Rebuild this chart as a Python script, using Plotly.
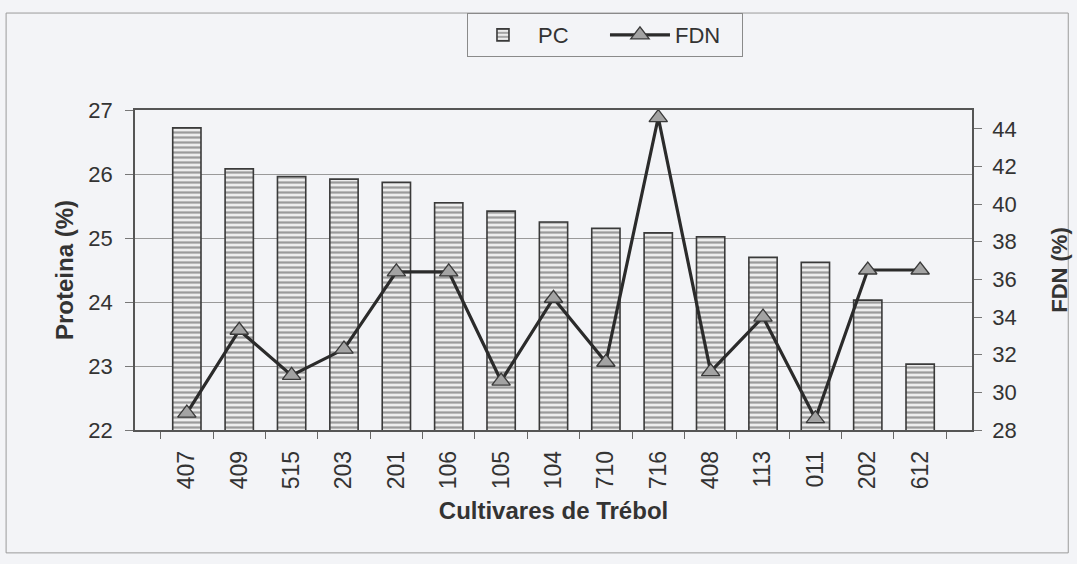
import plotly.graph_objects as go

cultivares = ["407", "409", "515", "203", "201", "106", "105", "104",
              "710", "716", "408", "113", "011", "202", "612"]
pc = [26.72, 26.08, 25.96, 25.92, 25.87, 25.55, 25.42, 25.25,
      25.15, 25.08, 25.02, 24.70, 24.62, 24.03, 23.03]
fdn = [28.9, 33.3, 30.9, 32.3, 36.4, 36.4, 30.6, 35.0,
       31.6, 44.6, 31.1, 34.0, 28.6, 36.5, 36.5]

left_ticks = [22, 23, 24, 25, 26, 27]
right_ticks = [28, 30, 32, 34, 36, 38, 40, 42, 44]

ink = "#333333"
bg = "#f3f4f7"
font_family = "Liberation Sans, Arial, sans-serif"

fig = go.Figure()
fig.add_trace(go.Bar(
    x=cultivares, y=pc, name="PC",
    marker=dict(
        color="#eeeeee",
        line=dict(color="#3a3a3a", width=1.6),
        pattern=dict(shape="-", fgcolor="#4a4a4a", bgcolor="#ededed",
                     size=5, solidity=0.45),
    ),
    yaxis="y",
))
fig.add_trace(go.Scatter(
    x=cultivares, y=fdn, name="FDN", mode="lines+markers",
    line=dict(color="#2b2b2b", width=3.2),
    marker=dict(symbol="triangle-up", size=16, color="#a3a3a3",
                line=dict(color="#3a3a3a", width=1.3)),
    yaxis="y2",
))

fig.update_layout(
    width=1077, height=564, autosize=False,
    margin=dict(l=135, r=105, t=110, b=134, autoexpand=False),
    paper_bgcolor=bg, plot_bgcolor=bg,
    font=dict(family=font_family, color=ink, size=20),
    bargap=0.46,
    showlegend=True,
    legend=dict(orientation="h", x=0.5615, xanchor="center",
                y=1.303, yanchor="top",
                bordercolor="#8a8a8a", borderwidth=1, bgcolor=bg,
                font=dict(size=22, color=ink),
                itemwidth=60, entrywidth=62, tracegroupgap=0),
    xaxis=dict(
        title=dict(text="<b>Cultivares de Trébol</b>", font=dict(size=24), standoff=14),
        tickangle=-90, tickfont=dict(size=23),
        showline=True, linecolor="#555555", linewidth=1.5, mirror=True,
        ticks="outside", tickson="boundaries", ticklen=7, tickcolor="#666666",
        ticklabelstandoff=10,
        showgrid=False, automargin=False,
    ),
    yaxis=dict(
        title=dict(text="<b>Proteina (%)</b>", font=dict(size=24), standoff=8),
        range=[22, 27], tickvals=left_ticks, tickfont=dict(size=22),
        showline=True, linecolor="#555555", linewidth=1.5,
        ticks="outside", ticklen=8, tickcolor="#777777",
        ticklabelstandoff=8,
        showgrid=True, gridcolor="#999999", gridwidth=1,
        zeroline=False, automargin=False,
    ),
    yaxis2=dict(
        title=dict(text="<b>FDN (%)</b>", font=dict(size=22), standoff=36),
        overlaying="y", side="right",
        range=[28, 45], tickvals=right_ticks, tickfont=dict(size=22),
        showline=True, linecolor="#555555", linewidth=1.5,
        ticks="outside", ticklen=8, tickcolor="#777777",
        ticklabelstandoff=6,
        showgrid=False, zeroline=False, automargin=False,
    ),
    shapes=[dict(type="rect", xref="paper", yref="paper",
                 x0=-0.154, x1=1.115, y0=-0.384, y1=1.303,
                 line=dict(color="#9a9a9a", width=1), layer="below")],
)

fig.write_html(
    "out.html",
    config={"responsive": False, "displayModeBar": False},
    default_width="1077px", default_height="564px",
    post_script=(
        "document.documentElement.style.margin='0';"
        "document.body.style.margin='0';"
        "document.body.style.padding='0';"
        "document.body.style.overflow='hidden';"
    ),
)
